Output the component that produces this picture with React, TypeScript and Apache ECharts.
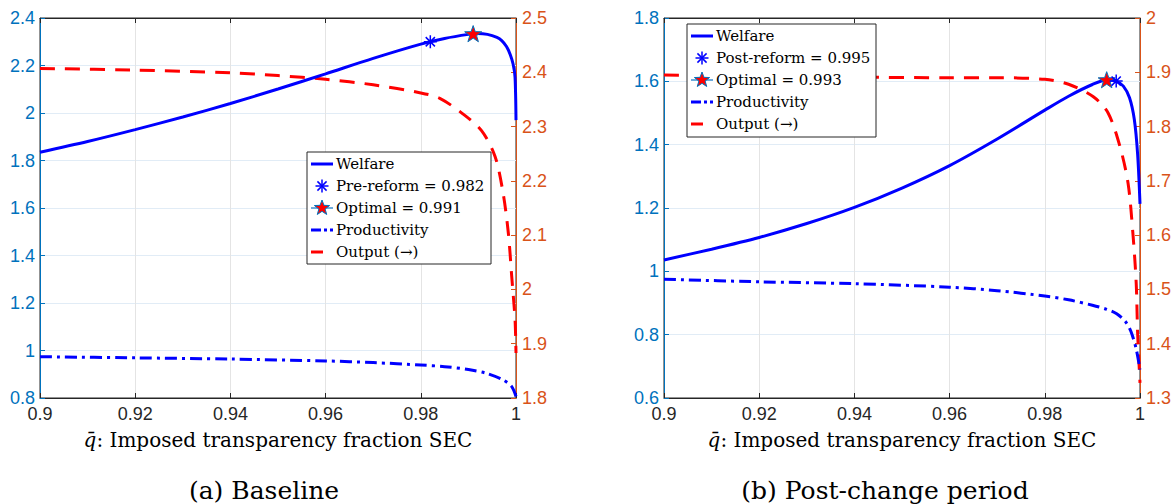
import React, { useEffect, useRef } from 'react';
import * as echarts from 'echarts';

// ---------- data ----------
const xRange = [0.9, 1.0, 0.02];

const baselineWelfare: [number, number][] = [
  [0.9, 1.835], [0.91, 1.88], [0.92, 1.93], [0.93, 1.983], [0.94, 2.04],
  [0.95, 2.101], [0.96, 2.165], [0.97, 2.23], [0.98, 2.29], [0.985, 2.314],
  [0.99, 2.331], [0.992, 2.335], [0.994, 2.331], [0.996, 2.318], [0.997, 2.305],
  [0.998, 2.28], [0.9988, 2.245], [0.9994, 2.205], [0.9998, 2.15], [1.0, 1.97],
];
const baselineProductivity: [number, number][] = [
  [0.9, 0.974], [0.92, 0.969], [0.94, 0.964], [0.96, 0.956], [0.97, 0.949],
  [0.98, 0.939], [0.985, 0.932], [0.99, 0.92], [0.9938, 0.904], [0.9973, 0.876],
  [0.9991, 0.848], [1.0, 0.806],
];
const baselineOutput: [number, number][] = [
  [0.9, 2.407], [0.92, 2.404], [0.94, 2.399], [0.95, 2.394], [0.96, 2.387],
  [0.97, 2.377], [0.98, 2.362], [0.984, 2.352], [0.9889, 2.323], [0.9928, 2.292],
  [0.9956, 2.245], [0.9973, 2.177], [0.9984, 2.103], [0.9991, 2.024],
  [0.9998, 1.944], [1.0, 1.883],
];
const baselinePreReform: [number, number][] = [[0.982, 2.3]];
const baselineOptimal: [number, number][] = [[0.991, 2.334]];

const postWelfare: [number, number][] = [
  [0.9, 1.036], [0.91, 1.07], [0.92, 1.107], [0.93, 1.151], [0.94, 1.202],
  [0.95, 1.263], [0.96, 1.334], [0.97, 1.418], [0.98, 1.509], [0.985, 1.553],
  [0.99, 1.59], [0.993, 1.604], [0.995, 1.6], [0.9965, 1.585], [0.9978, 1.548],
  [0.9988, 1.48], [0.9995, 1.37], [1.0, 1.213],
];
const postProductivity: [number, number][] = [
  [0.9, 0.975], [0.92, 0.967], [0.94, 0.961], [0.96, 0.95], [0.97, 0.939],
  [0.98, 0.922], [0.985, 0.91], [0.99, 0.893], [0.993, 0.88], [0.9951, 0.866],
  [0.997, 0.84], [0.9981, 0.81], [0.9992, 0.755], [1.0, 0.69],
];
const postOutput: [number, number][] = [
  [0.9, 1.895], [0.92, 1.893], [0.94, 1.891], [0.96, 1.89], [0.97, 1.89],
  [0.98, 1.887], [0.985, 1.878], [0.9902, 1.855], [0.9933, 1.825], [0.9958, 1.763],
  [0.9975, 1.695], [0.9985, 1.604], [0.9992, 1.512], [0.9995, 1.42], [1.0, 1.328],
];
const postPostReform: [number, number][] = [[0.995, 1.601]];
const postOptimal: [number, number][] = [[0.993, 1.605]];

const leftAxisRanges = [[0.8, 2.4, 0.2], [0.6, 1.8, 0.2]];
const rightAxisRanges = [[1.8, 2.5, 0.1], [1.3, 2.0, 0.1]];
const captions = ['(a) Baseline', '(b) Post-change period'];
const axisTitle = '{q|q\u0304}: Imposed transparency fraction SEC';
const legendLabels = [
  ['Welfare', 'Pre-reform = 0.982', 'Optimal = 0.991', 'Productivity', 'Output (\u2192)'],
  ['Welfare', 'Post-reform = 0.995', 'Optimal = 0.993', 'Productivity', 'Output (\u2192)'],
];

// ---------- styling ----------
const BLUE_AX = '#0072BD';
const ORANGE_AX = '#D95319';
const DARK = '#262626';
const LINE_BLUE = '#0000ff';
const LINE_RED = '#ff0000';
const SANS = 'Liberation Sans, Arial, sans-serif';
const SERIF = 'DejaVu Serif, serif';

const GRIDS = [
  { left: 40, top: 18, width: 476, height: 380 },
  { left: 664, top: 18, width: 476, height: 380 },
];

function starPts(cx: number, cy: number, R: number, r: number): number[][] {
  const pts: number[][] = [];
  for (let i = 0; i < 10; i++) {
    const rr = i % 2 === 0 ? R : r;
    const a = -Math.PI / 2 + (i * Math.PI) / 5;
    pts.push([cx + rr * Math.cos(a), cy + rr * Math.sin(a)]);
  }
  return pts;
}
const STAR_SYMBOL =
  'path://M' + starPts(0, 0, 10, 4).map((p) => p[0].toFixed(3) + ',' + p[1].toFixed(3)).join('L') + 'Z';
const ASTERISK_SYMBOL = 'path://M0,-10L0,10M-10,0L10,0M-7.07,-7.07L7.07,7.07M-7.07,7.07L7.07,-7.07';

function legendGraphic(box: { x: number; y: number; w: number; h: number }, labels: string[]) {
  const rowH = 22;
  const y0 = box.y + 12;
  const ix0 = box.x + 4;
  const ix1 = box.x + 26;
  const icx = (ix0 + ix1) / 2;
  const tx = box.x + 29;
  const els: any[] = [
    {
      type: 'rect',
      shape: { x: box.x, y: box.y, width: box.w, height: box.h },
      style: { fill: '#ffffff', stroke: DARK, lineWidth: 1 },
      z: 100,
    },
  ];
  const ys = labels.map((_, i) => y0 + i * rowH);
  els.push({ type: 'line', shape: { x1: ix0, y1: ys[0], x2: ix1, y2: ys[0] }, style: { stroke: LINE_BLUE, lineWidth: 3 }, z: 101 });
  const a = 6.5;
  const d = a * 0.707;
  [[0, -a, 0, a], [-a, 0, a, 0], [-d, -d, d, d], [-d, d, d, -d]].forEach((s) => {
    els.push({ type: 'line', shape: { x1: icx + s[0], y1: ys[1] + s[1], x2: icx + s[2], y2: ys[1] + s[3] }, style: { stroke: LINE_BLUE, lineWidth: 1.5 }, z: 101 });
  });
  els.push({ type: 'line', shape: { x1: ix0, y1: ys[2], x2: ix1, y2: ys[2] }, style: { stroke: '#3d8fd1', lineWidth: 1.5 }, z: 101 });
  els.push({ type: 'polygon', shape: { points: starPts(icx, ys[2], 8, 3.3) }, style: { fill: LINE_RED, stroke: BLUE_AX, lineWidth: 1 }, z: 102 });
  els.push({ type: 'line', shape: { x1: ix0, y1: ys[3], x2: ix1, y2: ys[3] }, style: { stroke: LINE_BLUE, lineWidth: 3, lineDash: [10, 3, 3, 3] }, z: 101 });
  els.push({ type: 'line', shape: { x1: ix0, y1: ys[4], x2: ix0 + 12, y2: ys[4] }, style: { stroke: LINE_RED, lineWidth: 3 }, z: 101 });
  labels.forEach((t, i) => {
    els.push({
      type: 'text',
      x: tx,
      y: ys[i],
      style: { text: t, fill: '#000', font: `15px ${SERIF}`, verticalAlign: 'middle', align: 'left' },
      z: 101,
    });
  });
  return els;
}

function buildOption() {
  const xAxis: any[] = [];
  const yAxis: any[] = [];
  GRIDS.forEach((_, gi) => {
    xAxis.push({
      type: 'value', gridIndex: gi, min: xRange[0], max: xRange[1], interval: xRange[2], position: 'bottom',
      axisLine: { show: true, lineStyle: { color: DARK, width: 1 } },
      axisTick: { show: true, inside: true, length: 5, lineStyle: { color: DARK } },
      axisLabel: { color: DARK, fontSize: 18, fontFamily: SANS, margin: 7 },
      splitLine: { show: true, lineStyle: { color: '#e4e4e4', width: 1 } },
      name: axisTitle, nameLocation: 'middle', nameGap: 32,
      nameTextStyle: {
        color: '#000', fontSize: 20, fontFamily: SERIF,
        rich: { q: { fontStyle: 'italic', fontSize: 20, fontFamily: SERIF, color: '#000' } },
      },
    });
    xAxis.push({
      type: 'value', gridIndex: gi, min: xRange[0], max: xRange[1], interval: xRange[2], position: 'top',
      axisLine: { show: true, lineStyle: { color: DARK, width: 1 } },
      axisTick: { show: true, inside: true, length: 5, lineStyle: { color: DARK } },
      axisLabel: { show: false }, splitLine: { show: false },
    });
    const L = leftAxisRanges[gi];
    const R = rightAxisRanges[gi];
    yAxis.push({
      type: 'value', gridIndex: gi, position: 'left', min: L[0], max: L[1], interval: L[2],
      axisLine: { show: true, lineStyle: { color: BLUE_AX, width: 1 } },
      axisTick: { show: true, inside: true, length: 5, lineStyle: { color: BLUE_AX } },
      axisLabel: { color: BLUE_AX, fontSize: 18, fontFamily: SANS, margin: 5 },
      splitLine: { show: true, lineStyle: { color: '#e1ecf6', width: 1 } },
    });
    yAxis.push({
      type: 'value', gridIndex: gi, position: 'right', min: R[0], max: R[1], interval: R[2],
      axisLine: { show: true, lineStyle: { color: ORANGE_AX, width: 1 } },
      axisTick: { show: true, inside: true, length: 5, lineStyle: { color: ORANGE_AX } },
      axisLabel: { color: ORANGE_AX, fontSize: 18, fontFamily: SANS, margin: 6 },
      splitLine: { show: false },
    });
  });

  const panels = [
    { w: baselineWelfare, p: baselineProductivity, o: baselineOutput, ref: baselinePreReform, opt: baselineOptimal, names: legendLabels[0] },
    { w: postWelfare, p: postProductivity, o: postOutput, ref: postPostReform, opt: postOptimal, names: legendLabels[1] },
  ];
  const series: any[] = [];
  panels.forEach((pn, gi) => {
    const xi = gi * 2;
    const yl = gi * 2;
    const yr = gi * 2 + 1;
    series.push({
      type: 'line', name: pn.names[4], xAxisIndex: xi, yAxisIndex: yr, data: pn.o, symbol: 'none',
      smooth: 0.3, lineStyle: { color: LINE_RED, width: 3, type: [15, 10] }, z: 2,
    });
    series.push({
      type: 'line', name: pn.names[0], xAxisIndex: xi, yAxisIndex: yl, data: pn.w, symbol: 'none',
      smooth: 0.3, lineStyle: { color: LINE_BLUE, width: 3 }, z: 3,
    });
    series.push({
      type: 'line', name: pn.names[3], xAxisIndex: xi, yAxisIndex: yl, data: pn.p, symbol: 'none',
      smooth: 0.3, lineStyle: { color: LINE_BLUE, width: 3, type: [12, 5, 3, 5] }, z: 3,
    });
    series.push({
      type: 'scatter', name: pn.names[2], xAxisIndex: xi, yAxisIndex: yl, data: pn.opt,
      symbol: STAR_SYMBOL, symbolSize: 17, symbolKeepAspect: true,
      itemStyle: { color: LINE_RED, borderColor: BLUE_AX, borderWidth: 1, opacity: 1 }, z: 5,
    });
    series.push({
      type: 'scatter', name: pn.names[1], xAxisIndex: xi, yAxisIndex: yl, data: pn.ref,
      symbol: ASTERISK_SYMBOL, symbolSize: 13,
      itemStyle: { color: 'rgba(0,0,0,0)', borderColor: LINE_BLUE, borderWidth: 1.5, opacity: 1 }, z: 6,
    });
  });

  const graphic: any[] = [
    ...legendGraphic({ x: 307, y: 152, w: 184, h: 112 }, legendLabels[0]),
    ...legendGraphic({ x: 687, y: 24, w: 189, h: 113 }, legendLabels[1]),
    {
      type: 'text', x: 264, y: 490,
      style: { text: captions[0], fill: '#000', font: `25px ${SERIF}`, align: 'center', verticalAlign: 'middle' },
    },
    {
      type: 'text', x: 885, y: 490,
      style: { text: captions[1], fill: '#000', font: `25px ${SERIF}`, align: 'center', verticalAlign: 'middle' },
    },
  ];

  return {
    animation: false,
    backgroundColor: '#ffffff',
    grid: GRIDS.map((g) => ({ ...g, show: true, borderColor: DARK, borderWidth: 1, backgroundColor: 'transparent' })),
    xAxis,
    yAxis,
    series,
    graphic,
  };
}

export default function App() {
  const ref = useRef<HTMLDivElement | null>(null);
  useEffect(() => {
    if (!ref.current) return;
    const chart = echarts.init(ref.current, undefined, { renderer: 'svg' });
    chart.setOption(buildOption() as any);
    return () => chart.dispose();
  }, []);
  return (
    <div
      ref={ref}
      style={{ position: 'absolute', left: 0, top: 0, width: '1175px', height: '504px', background: '#fff' }}
    />
  );
}
